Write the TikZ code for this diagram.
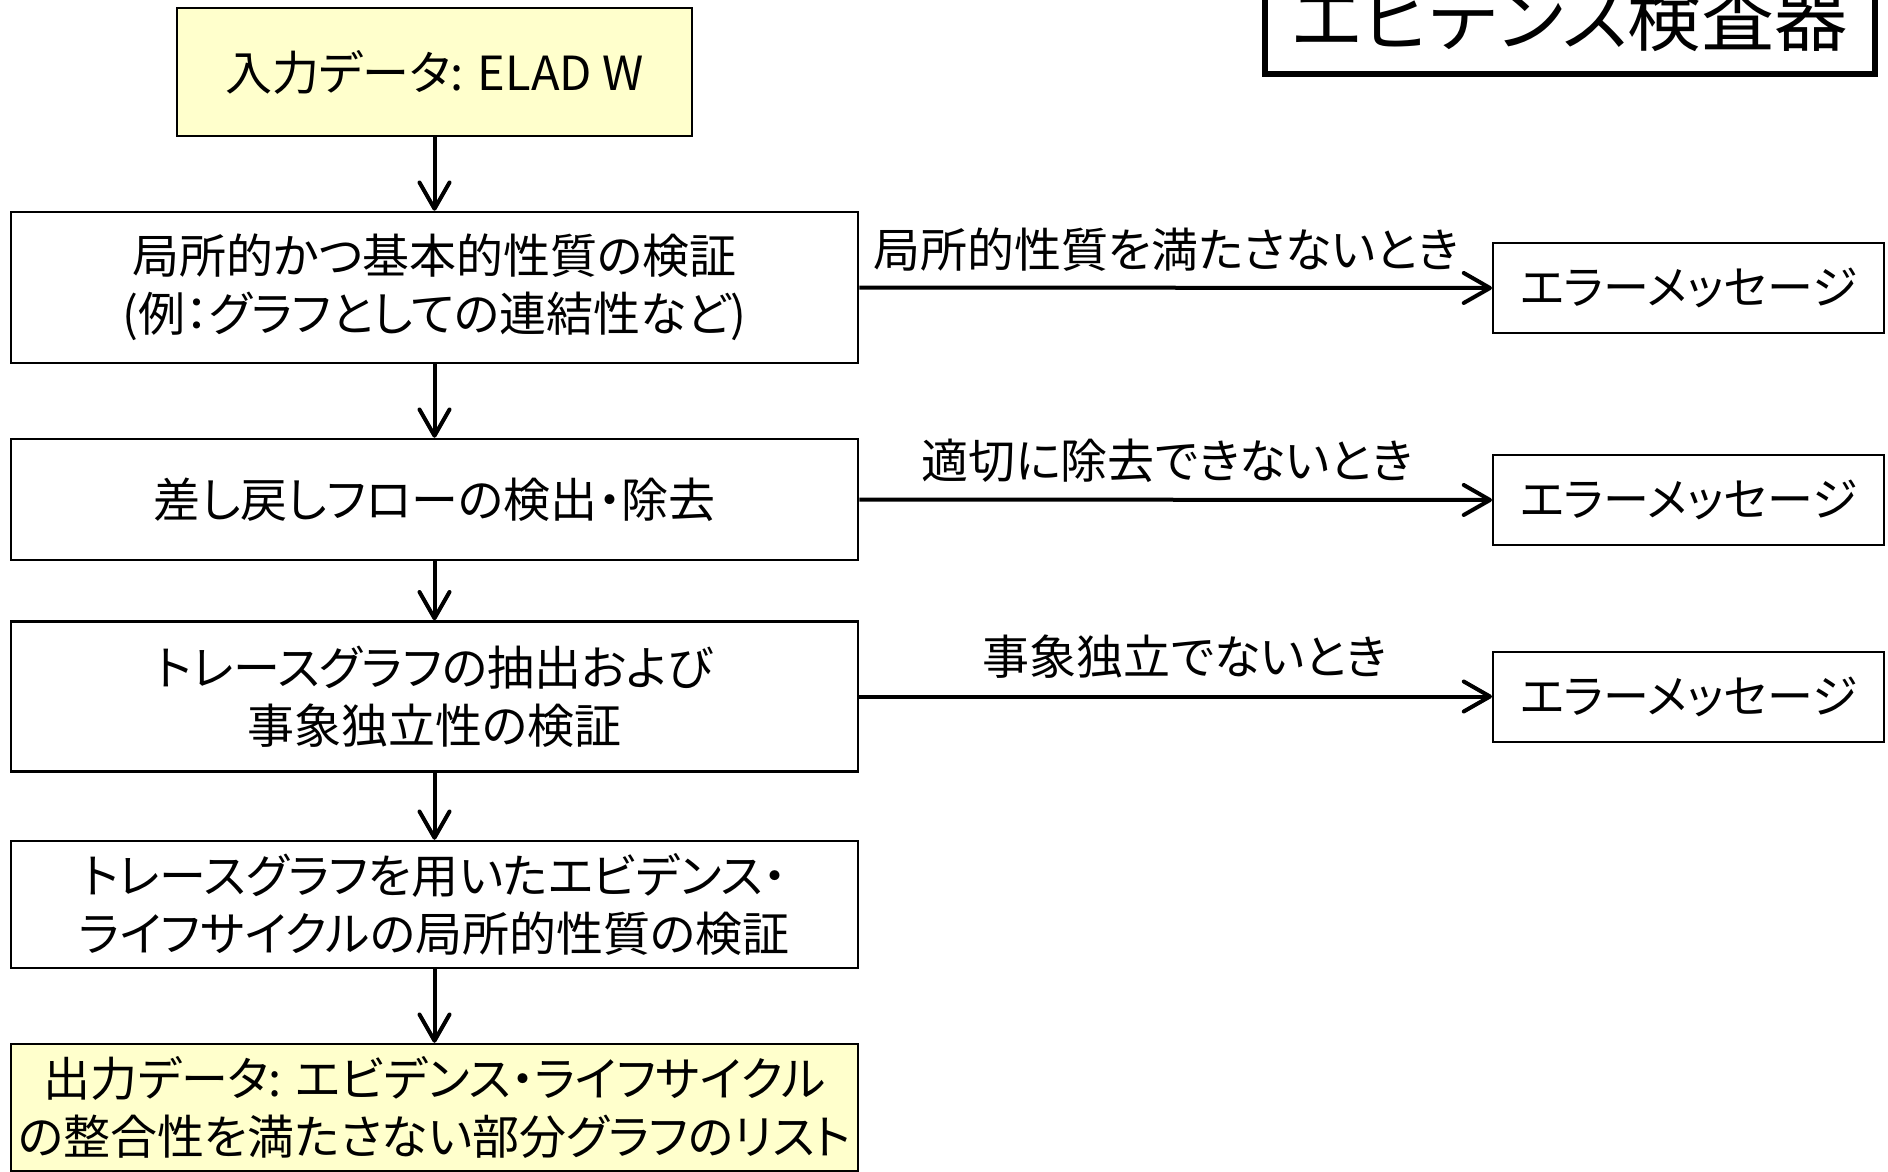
\documentclass[tikz,border=0pt]{standalone}
\usepackage{fontspec}
\setmainfont{Noto Sans CJK JP}[RawFeature={+palt}]
\usetikzlibrary{arrows.meta}
\definecolor{paleyellow}{HTML}{FFFFCC}
\tikzset{
  box/.style={draw=black, line width=1pt, fill=white, inner sep=0pt, align=center,
    font=\fontsize{18.8pt}{23.2pt}\selectfont},
  iobox/.style={box, fill=paleyellow},
  errbox/.style={draw=black, line width=0.8pt, inner sep=0pt, align=center,
    minimum width=391*0.4pt, minimum height=90*0.4pt,
    font=\fontsize{18.4pt}{23.2pt}\selectfont},
  lbl/.style={inner sep=0pt, font=\fontsize{18.8pt}{23.2pt}\selectfont},
  arr/.style={line width=1.6pt, -{Straight Barb[length=10.5pt,width=12pt,round]}},
}
\begin{document}
\begin{tikzpicture}[x=0.4pt, y=-0.4pt]
\useasboundingbox (0,0) rectangle (1888,1172);
\clip (0,0) rectangle (1888,1172);
% title
\node[draw=black, line width=2.4pt, inner sep=0pt, minimum width=610*0.4pt, minimum height=114*0.4pt,
  font=\fontsize{29.3pt}{31pt}\selectfont] (title) at (1570,17) {\raisebox{-3pt}{エビデンス検査器}};
% main column
\node[iobox, minimum width=515*0.4pt, minimum height=128*0.4pt] (in) at (434.5,72) {入力データ: ELAD W};
\node[box, minimum width=847*0.4pt, minimum height=151*0.4pt] (b2) at (434.5,287.5) {局所的かつ基本的性質の検証\\(例：グラフとしての連結性など)};
\node[box, minimum width=847*0.4pt, minimum height=121*0.4pt] (b3) at (434.5,499.5) {差し戻しフローの検出・除去};
\node[box, minimum width=847*0.4pt, minimum height=150*0.4pt] (b4) at (434.5,696.5) {トレースグラフの抽出および\\事象独立性の検証};
\node[box, minimum width=847*0.4pt, minimum height=127*0.4pt] (b5) at (434.5,904.5) {トレースグラフを用いたエビデンス・\\ライフサイクルの局所的性質の検証};
\node[iobox, minimum width=847*0.4pt, minimum height=127*0.4pt] (out) at (434.5,1107.5) {出力データ: エビデンス・ライフサイクル\\の整合性を満たさない部分グラフのリスト};
% error boxes
\node[errbox] (e1) at (1688.5,288) {エラーメッセージ};
\node[errbox] (e2) at (1688.5,500) {エラーメッセージ};
\node[errbox] (e3) at (1688.5,696.5) {エラーメッセージ};
% labels
\node[lbl] (l1) at (1166,250) {局所的性質を満たさないとき};
\node[lbl] (l2) at (1167,461) {適切に除去できないとき};
\node[lbl] (l3) at (1185,657) {事象独立でないとき};
% connectors
\draw[arr] (in) -- (b2);
\draw[arr] (b2) -- (b3);
\draw[arr] (b3) -- (b4);
\draw[arr] (b4) -- (b5);
\draw[arr] (b5) -- (out);
\draw[arr] (b2.east) -- (e1.west);
\draw[arr] (b3.east) -- (e2.west);
\draw[arr] (b4.east) -- (e3.west);
\end{tikzpicture}
\end{document}
